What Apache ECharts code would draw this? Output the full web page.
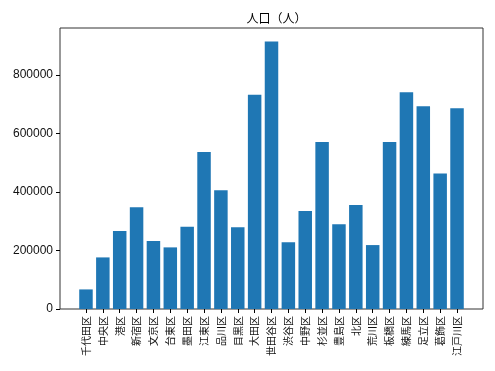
<!DOCTYPE html>
<html>
<head>
<meta charset="utf-8">
<script src="https://cdn.jsdelivr.net/npm/echarts@6/dist/echarts.min.js"></script>
<style>
html,body{margin:0;padding:0;background:#fff;}
#chart{width:495px;height:371px;}
</style>
</head>
<body>
<div id="chart"></div>
<script>
const titleText = '人口（人）';
const wards = ['千代田区','中央区','港区','新宿区','文京区','台東区','墨田区','江東区','品川区','目黒区','大田区','世田谷区','渋谷区','中野区','杉並区','豊島区','北区','荒川区','板橋区','練馬区','足立区','葛飾区','江戸川区'];
const population = [67000,176500,266800,348000,232400,210800,281500,537000,406500,279400,732600,915600,228000,335400,571300,289800,356000,218700,571300,741600,693500,463500,686700];
const yTicks = [0,200000,400000,600000,800000];

const yMax = Math.max(...population) * 1.05;
const chart = echarts.init(document.getElementById('chart'));
const frame = {left:60, right:12, top:28, bottom:62};
const n = wards.length;
const span = n - 1 + 0.8;
const units = span * 1.1;
const plotW = 495 - frame.left - frame.right;
const pxPerUnit = plotW / units;
const pad = (units - n) / 2 * pxPerUnit;

chart.setOption({
  animation:false,
  title:{text:titleText, left:frame.left + plotW/2, top:7, textAlign:'center',
    textStyle:{fontSize:12, fontWeight:'normal', color:'#000', fontFamily:'Noto Sans CJK JP'}},
  grid:[
    {left:frame.left, right:frame.right, top:frame.top, bottom:frame.bottom, show:true, borderColor:'#333', borderWidth:1, backgroundColor:'transparent'},
    {left:frame.left + pad, right:frame.right + pad, top:frame.top, bottom:frame.bottom}
  ],
  xAxis:[
    {gridIndex:0, type:'value', show:false, min:0, max:1},
    {gridIndex:1, type:'category', data:wards, boundaryGap:true,
      axisLine:{show:false},
      axisTick:{show:true, alignWithLabel:true, length:4, lineStyle:{color:'#000'}},
      axisLabel:{rotate:90, margin:7, fontSize:10, color:'#111', fontFamily:'Noto Sans CJK JP', interval:0}}
  ],
  yAxis:[
    {gridIndex:0, type:'value', show:false, min:0, max:1},
    {gridIndex:1, type:'value', min:0, max:yMax, interval:200000, offset:pad,
      axisLine:{show:false},
      axisTick:{show:true, length:4, lineStyle:{color:'#000'}},
      splitLine:{show:false},
      axisLabel:{showMaxLabel:false, fontSize:12, color:'#111', margin:7, fontFamily:'Liberation Sans',
        formatter:v => yTicks.includes(v) ? String(v) : ''}}
  ],
  series:[{type:'bar', xAxisIndex:1, yAxisIndex:1, data:population, barCategoryGap:'20%',
    itemStyle:{color:'#1f77b4'}}]
});
</script>
</body>
</html>
